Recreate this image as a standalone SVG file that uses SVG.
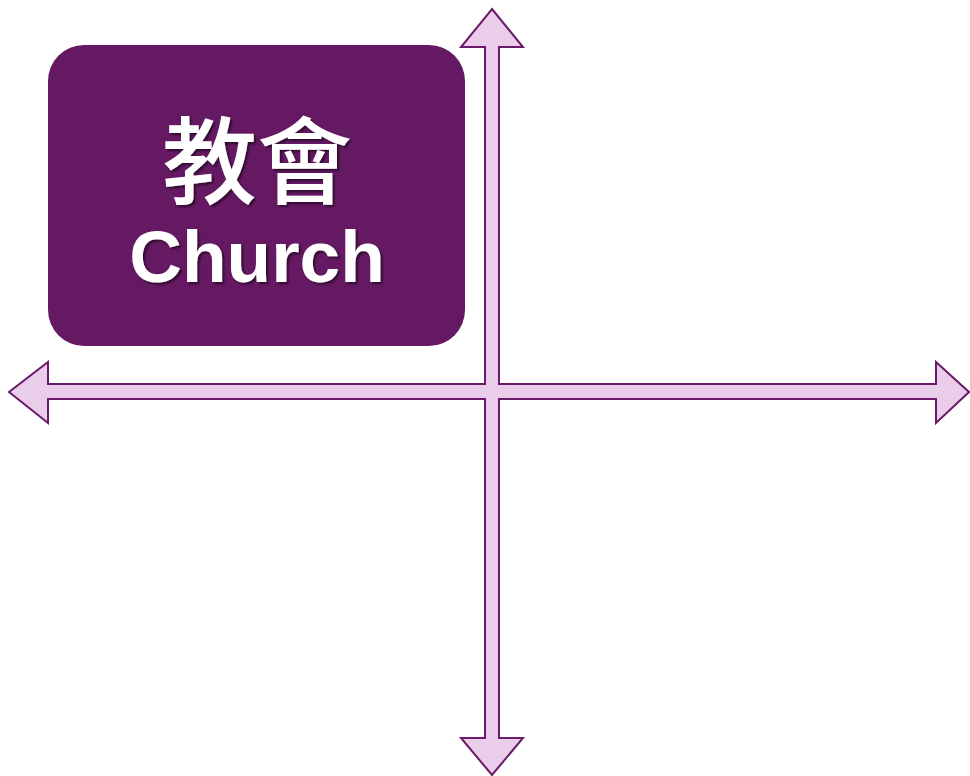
<svg xmlns="http://www.w3.org/2000/svg" width="970" height="776" viewBox="0 0 970 776">
  <style>
    .arrow { fill: #EACDEA; stroke: #6A1A69; stroke-width: 2; stroke-linejoin: miter; }
    .box { fill: #651963; }
    .label { fill: #FFFFFF; text-anchor: middle; filter: url(#shadow); }
    .zh { font-family: "Noto Sans CJK TC", "Noto Sans CJK SC", sans-serif; font-weight: 500; font-size: 95px; }
    .en { font-family: "Liberation Sans", Arial, sans-serif; font-weight: 700; font-size: 73px; }
  </style>
  <defs>
    <filter id="shadow" x="-10%" y="-10%" width="130%" height="130%">
      <feDropShadow dx="2" dy="2" stdDeviation="1.2" flood-color="#000000" flood-opacity="0.55"/>
    </filter>
  </defs>
  <g id="connectors">
    <polygon class="arrow" points="492,9 523,47 499,47 499,384 936,384 936,362 969,392 936,423 936,399 499,399 499,738 523,738 492,775 461,738 485,738 485,399 48,399 48,423 9,392 48,362 48,384 485,384 485,47 461,47"/>
  </g>
  <g id="church">
    <rect class="box" x="48" y="45" width="417" height="301" rx="36" ry="36"/>
    <text class="label zh" x="257" y="197">教會</text>
    <text class="label en" x="257" y="282">Church</text>
  </g>
</svg>
